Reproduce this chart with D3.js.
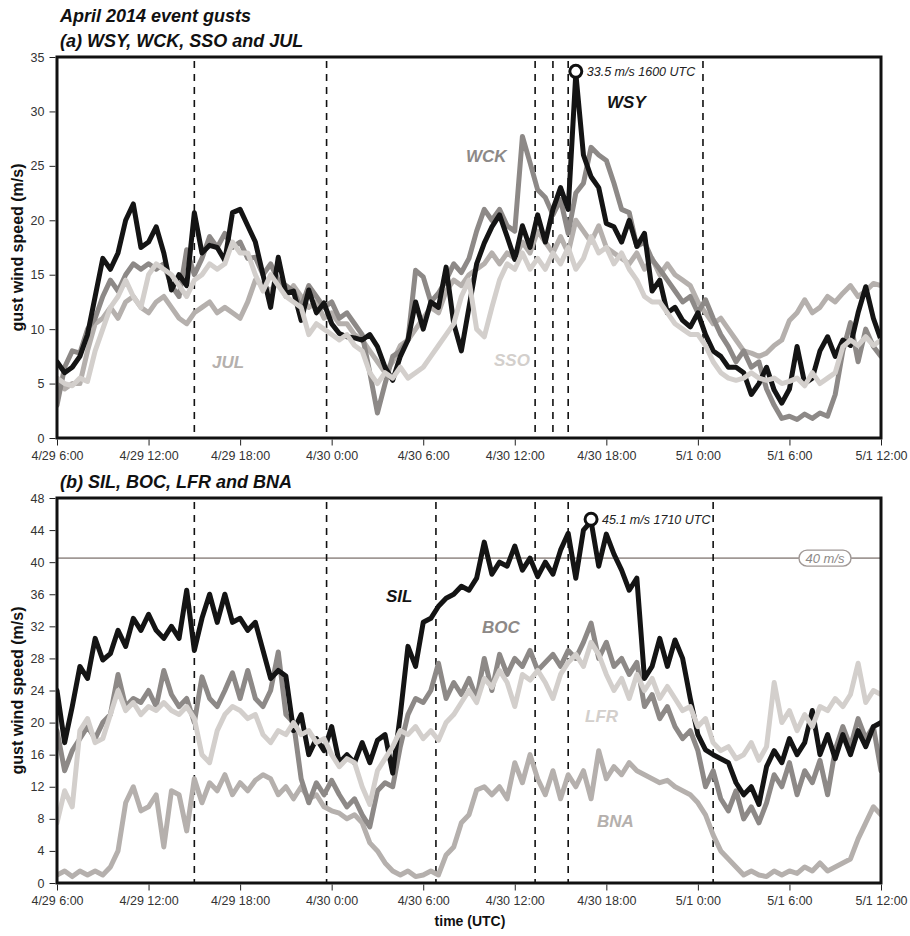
<!DOCTYPE html>
<html>
<head>
<meta charset="utf-8">
<script src="https://cdn.jsdelivr.net/npm/d3@7"></script>
<style>
  body { margin: 0; background: #fff; }
  text { font-family: "Liberation Sans", Arial, sans-serif; }
</style>
</head>
<body>
<svg id="chart" width="910" height="936"></svg>
<script>
// gust series, one value every 30 min from 4/29 06:00 UTC to 5/1 12:00 UTC
const startTime = "2014-04-29T06:00:00Z";
const endTime = "2014-05-01T12:00:00Z";
const stepMinutes = 30;

// panel (a)
const wsy = [7,6,6.5,7.5,9.5,13,16.5,15.5,17,20,21.5,17.5,18,19.4,17,13.6,15,14,20.7,17,
  17.7,17.5,16.3,20.7,21,19.5,18,15,12,16.6,13.3,13.5,10.8,13.6,11.5,12.4,10.5,9.6,9.3,9.2,
  9,9.5,8.4,6.5,5.3,7.5,9,12.5,10,12.5,12,15.7,10.5,8,12,16,17.9,19.4,20.5,18.5,
  16.4,19.5,17.5,20.5,18,21,23,21,33.5,26,24,23,19.7,19.4,18,20,17.6,18.8,13.5,14.5,
  11.5,12,10.8,10.2,11.5,9.5,8,7.5,6.5,6.5,6,4,5,6.5,4.4,3.2,4.5,8.4,5,5.5,
  8,9.3,7.5,9,8.5,11.5,13.9,11,9];
const wck = [3,6.5,8,7.8,10,11,13,14.5,13.5,15,16,15.5,16,15.5,16,14,13,17.3,15,16.5,
  18.5,17.5,18.8,17.5,18,16.5,16.6,15,16,14.5,14,13.5,12,14,13,12,12.5,11,11.5,10.5,
  9.5,6,2.3,5,7.5,8,9,15.4,14.8,12.5,13.3,14.5,16,15.2,16.5,19,21,20,21,19.5,
  19,27.7,25.3,22.8,22.1,20.5,21.9,18.8,22.5,23.4,26.7,26,25.5,23.4,21,20.7,17.6,18,16.4,15.5,
  14.5,13.5,12.5,13,11.5,12.7,11,9.5,8.4,7,8,6.5,7,4.5,3,1.8,2,1.7,2.2,1.8,
  2.3,2,4,8,10.6,7,10,8.4,7.5];
const jul = [5,4.5,5,5,8,10.5,11,12,11,12.5,13,12,11.5,12.5,13,12,11,10.5,11.5,12,
  12.5,11.5,12,11.5,11,12.5,14.5,14,13.5,14.5,13,14,13,12,12.5,11,11.5,10.5,10.5,9.5,
  9,8,7,6,7,8.5,9,10,11,12,11.5,13.5,14.5,14,15,15.5,16,17,16,17,
  16.5,18,17,19,18,17,18.5,17,20,19,18,19.5,17.5,17,16.5,16,17,15.5,16.5,15,
  16,15,14.5,14,12.5,11.5,10.5,11,10,9,8,7.8,7.5,7.8,8.5,9,10.8,11.5,12.7,11.5,
  12,13,12.5,13.3,14,13,13.5,14.2,14];
const sso = [5.5,5,4.8,5.5,5.2,8,10,12,13,14.5,13,12,15,16,15.5,15,14,13,14.5,15,
  16,15.5,16,18,17,17,15,13.5,15,14,13,12.5,12,9.5,10.5,10,9.5,9,9.5,8.5,
  8,6,5,6,5.5,6.5,5.5,6,6.5,7.5,8.5,9.5,10.5,13,14.5,10,9.3,12,14.5,16,
  15.5,17,15.5,16.5,15.5,17,16,17.5,15.5,16.5,18.5,17,17.5,16,17,15.5,14.5,13,12.5,12.5,
  11.5,10.5,10,9.5,9.5,8.5,7,6,5.5,5.3,5.5,6,5.5,5.3,5.5,5,5.2,5.5,4.8,6,
  5,5.5,6,8.4,9,8.5,9.3,8.5,9];

// panel (b)
const sil = [24,17.5,22,27,25.5,30.5,27.8,28.6,31.5,29.5,33,31.5,33.5,31.5,30.5,32,30.5,36.5,29,33,
  36,32.5,36,32.5,33,31.5,32.5,29,25.5,26.5,25.8,19,21,16,18,16.5,19.5,15,16,15,
  17.5,15,17.8,18.5,13.7,21,29.5,27,32.5,33,34.5,35.5,36,37,36.5,38,42.5,38.5,40,39.5,
  42,39,40.5,38.2,40,38.5,41.5,43.6,38,44,45.1,39.5,43.5,41,39,36.5,38,25.5,27,30.5,
  27,30.3,28,23,18.5,16.6,16,15.5,15,12.5,11,12,9.8,14.5,16.5,15,18,16,17.5,21.5,
  16,18.5,15.5,18.5,16,19,17,19.5,20];
const boc = [19,14,16.5,18,19.5,18,20,21,26,22,23,22.5,24,22,26.5,23.5,22,23,20,25.7,
  23,22,24,26.2,23,26.5,23,22,24,28.8,21,20,13,10,12.5,11,12.8,11,9.5,10.5,
  8.5,7,11.5,12.5,12,17,21,23,22.5,24,27.4,23,25,23.5,25.5,23,28,24,28.5,26,
  28,27,29,26.5,27.5,28.5,27,29,28,30,32.4,28,30,27,28,26,27.5,22,23.5,20.5,
  22,19.5,18,19,16.5,12,14,10.5,9,11.5,8,9.5,7.5,10,13.5,12,15,11,14,12.5,
  15.3,11,16.6,19.5,17,20.5,18,19.5,14];
const lfr = [7.5,11.5,9.5,19,20.5,17.5,18,21,24,21.5,22.5,21,22,21.5,22.5,21.5,21,22,20.5,16,
  15,19,21,22,21.5,20.5,21,18.5,17.5,19,18.5,20,18.5,19,17.5,18,16,14.5,15.5,15,
  12,9.8,14,15.5,17,19,18.5,19.5,18,19,17.8,20,21,22.5,24,22.5,25.5,24.4,26.5,25,
  22,26,25.3,26.5,25,23,26,27.5,28.5,27,30,28.5,26,24,25.5,23,26,24,25.5,23,
  24.5,23,21.5,22,19.5,20.5,17.5,16.5,17,15.5,16,17.5,15.3,17,25,20,21.5,19,21,19.5,
  22,21.5,23,22,23.5,27.4,22.5,24,23.5];
const bna = [1,1.5,0.8,1.5,1,1.5,1,2,4,10,12,9,9.5,11,4.5,11.5,11,6.5,13,10,
  12.5,11.5,13.5,11,12.5,11.5,12.8,13.5,13,11,12,10.5,12,10.5,11,9.5,9,8.7,8,8.5,
  7.5,5,4,2.5,1.5,1,1.5,0.8,1,1.5,1,3.5,4.5,7.5,8.5,11.6,12,11,12,10.5,
  15,12.5,16,13,11,14,10.5,13.5,12,14,10.5,16.5,13,14.5,13.5,15,14,13.5,13,12.5,
  12.8,12,11.5,11,10,8.5,6,4,3,2,1,1.5,1,0.8,1.5,1,1.5,1.2,2,1.5,
  2.5,1.5,2,2.5,3,5.5,7.5,9.5,8.5];

// vertical event markers (UTC)
const dashesA = ["2014-04-29T15:00Z","2014-04-29T23:40Z","2014-04-30T13:20Z","2014-04-30T14:30Z","2014-04-30T15:30Z","2014-05-01T00:20Z"];
const dashesB = ["2014-04-29T15:00Z","2014-04-29T23:40Z","2014-04-30T06:50Z","2014-04-30T13:20Z","2014-04-30T15:30Z","2014-05-01T01:00Z"];

const yTicksA = d3.range(0, 36, 5);
const yTicksB = d3.range(0, 49, 4);
const peakTextA = "33.5 m/s 1600 UTC";
const peakTextB = "45.1 m/s 1710 UTC";
const thresholdB = 40.5;
const thresholdText = "40 m/s";

const black = "#141414", dark = "#8d8987", mid = "#b5b0ad", light = "#d3cfcc";

const t0 = new Date(startTime), t1 = new Date(endTime);
const toSeries = vals => vals.map((v, i) => ({t: d3.utcMinute.offset(t0, i * stepMinutes), v: v}));

const svg = d3.select("#chart");
const x = d3.scaleUtc().domain([t0, t1]).range([57, 881]);
const fmt = d3.utcFormat("%-m/%-d %-H:%M");

function panel(cfg) {
  const y = d3.scaleLinear().domain([0, cfg.max]).range([cfg.bottom, cfg.top]);
  const g = svg.append("g");

  g.append("clipPath").attr("id", cfg.id)
    .append("rect").attr("x", 57).attr("y", cfg.top).attr("width", 824).attr("height", cfg.bottom - cfg.top);

  // threshold line
  if (cfg.threshold) {
    g.append("line").attr("x1", 57).attr("x2", 881)
      .attr("y1", y(cfg.threshold)).attr("y2", y(cfg.threshold))
      .attr("stroke", "#a09895").attr("stroke-width", 1.6);
  }

  // dashed lines
  g.selectAll(".dash").data(cfg.dashes).enter().append("line")
    .attr("x1", d => x(new Date(d))).attr("x2", d => x(new Date(d)))
    .attr("y1", cfg.top + 4).attr("y2", cfg.bottom)
    .attr("stroke", "#111").attr("stroke-width", 1.6).attr("stroke-dasharray", "7,6");

  const line = d3.line().x(d => x(d.t)).y(d => y(d.v));
  const lines = g.append("g").attr("clip-path", `url(#${cfg.id})`);
  cfg.series.forEach(s => {
    lines.append("path").datum(toSeries(s.values))
      .attr("d", line).attr("fill", "none")
      .attr("stroke", s.color).attr("stroke-width", 5)
      .attr("stroke-linejoin", "round").attr("stroke-linecap", "round");
  });

  // threshold label
  if (cfg.threshold) {
    const lx = 825, ly = y(cfg.threshold);
    g.append("rect").attr("x", lx - 26).attr("y", ly - 8).attr("width", 52).attr("height", 16)
      .attr("rx", 8).attr("fill", "#fff").attr("stroke", "#a09895").attr("stroke-width", 1.4);
    g.append("text").attr("x", lx).attr("y", ly + 4.5).attr("text-anchor", "middle")
      .attr("font-size", 13).attr("font-style", "italic").attr("fill", "#8d8987").text(thresholdText);
  }

  // peak marker
  const peakSeries = toSeries(cfg.series.find(s => s.peak).values);
  const pk = peakSeries.reduce((a, b) => b.v > a.v ? b : a);
  g.append("circle").attr("cx", x(pk.t)).attr("cy", y(pk.v) - 2).attr("r", 6)
    .attr("fill", "#fff").attr("stroke", "#111").attr("stroke-width", 3);
  g.append("text").attr("x", x(pk.t) + 11).attr("y", y(pk.v) + 3)
    .attr("font-size", 12.5).attr("font-style", "italic").attr("fill", "#222").text(cfg.peakText);

  // station labels
  cfg.labels.forEach(l => {
    g.append("text").attr("x", l.x).attr("y", l.y)
      .attr("font-size", 17).attr("font-weight", "bold").attr("font-style", "italic")
      .attr("fill", l.color).text(l.name);
  });

  // frame
  g.append("rect").attr("x", 57).attr("y", cfg.top).attr("width", 824).attr("height", cfg.bottom - cfg.top)
    .attr("fill", "none").attr("stroke", "#111").attr("stroke-width", 3);

  // axes
  const ya = g.append("g").attr("transform", "translate(55.5,0)")
    .call(d3.axisLeft(y).tickValues(cfg.yTicks).tickSize(6).tickPadding(5));
  ya.select(".domain").remove();
  ya.selectAll("text").attr("font-size", 12.5).attr("fill", "#333")
    .style("font-family", "'Liberation Sans', Arial, sans-serif");
  ya.selectAll("line").attr("stroke", "#222");

  const xa = g.append("g").attr("transform", `translate(0,${cfg.bottom + 1.5})`)
    .call(d3.axisBottom(x).ticks(d3.utcHour.every(6)).tickFormat(fmt).tickSize(6).tickPadding(6));
  xa.select(".domain").remove();
  xa.selectAll("text").attr("font-size", 12.5).attr("fill", "#333")
    .style("font-family", "'Liberation Sans', Arial, sans-serif");
  xa.selectAll("line").attr("stroke", "#222");

  // y title
  g.append("text").attr("transform", `translate(23,${(cfg.top + cfg.bottom) / 2}) rotate(-90)`)
    .attr("text-anchor", "middle").attr("font-size", 16).attr("font-weight", "bold")
    .attr("fill", "#111").text("gust wind speed (m/s)");

  // panel title
  g.append("text").attr("x", 60).attr("y", cfg.top - 10)
    .attr("font-size", 18).attr("font-weight", "bold").attr("font-style", "italic")
    .attr("fill", "#111").text(cfg.title);
}

svg.append("text").attr("x", 60).attr("y", 22)
  .attr("font-size", 18).attr("font-weight", "bold").attr("font-style", "italic")
  .attr("fill", "#111").text("April 2014 event gusts");

panel({
  id: "clipA", top: 57, bottom: 438, max: 35, yTicks: yTicksA, dashes: dashesA,
  title: "(a) WSY, WCK, SSO and JUL", peakText: peakTextA,
  series: [
    {values: jul, color: mid},
    {values: wck, color: dark},
    {values: wsy, color: black, peak: true},
    {values: sso, color: light}
  ],
  labels: [
    {name: "WSY", x: 607, y: 108, color: black},
    {name: "WCK", x: 466, y: 162, color: dark},
    {name: "JUL", x: 212, y: 368, color: mid},
    {name: "SSO", x: 494, y: 366, color: light}
  ]
});

panel({
  id: "clipB", top: 498, bottom: 883, max: 48, yTicks: yTicksB, dashes: dashesB,
  title: "(b) SIL, BOC, LFR and BNA", peakText: peakTextB, threshold: thresholdB,
  series: [
    {values: bna, color: mid},
    {values: boc, color: dark},
    {values: sil, color: black, peak: true},
    {values: lfr, color: light}
  ],
  labels: [
    {name: "SIL", x: 386, y: 602, color: black},
    {name: "BOC", x: 482, y: 633, color: dark},
    {name: "LFR", x: 585, y: 722, color: light},
    {name: "BNA", x: 597, y: 827, color: mid}
  ]
});

svg.append("text").attr("x", 470).attr("y", 926).attr("text-anchor", "middle")
  .attr("font-size", 14).attr("font-weight", "bold").attr("fill", "#111").text("time (UTC)");
</script>
</body>
</html>
